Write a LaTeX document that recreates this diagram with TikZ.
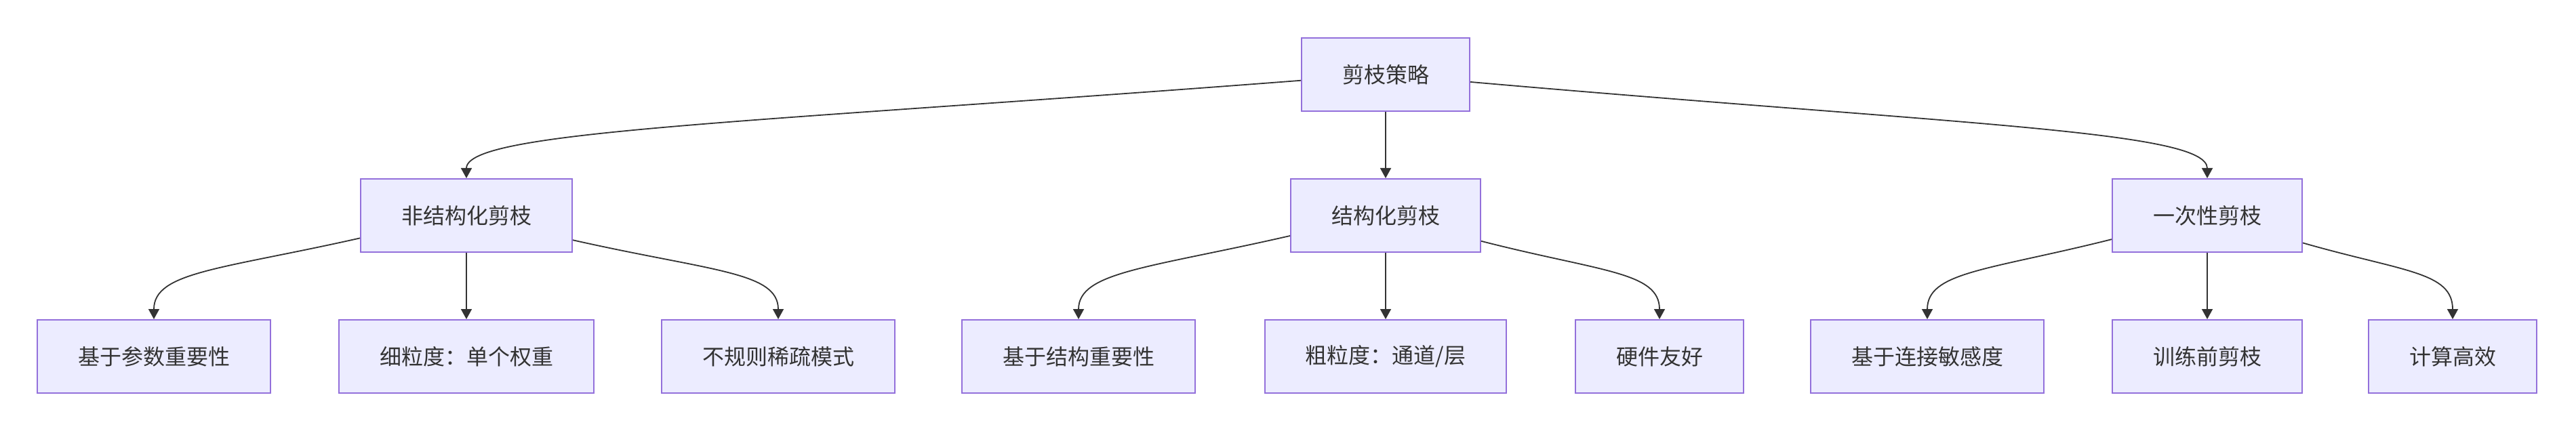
\documentclass[tikz,border=0pt]{standalone}
\usepackage{fontspec}
\setmainfont{Noto Sans CJK SC}
\usepackage{xcolor}
\usetikzlibrary{arrows.meta}
\definecolor{boxfill}{HTML}{ECECFF}
\definecolor{boxline}{HTML}{9370DB}
\definecolor{ink}{HTML}{333333}
\tikzset{
  box/.style={draw=boxline, fill=boxfill, line width=1pt, text=ink,
    font=\fontsize{16pt}{19pt}\selectfont, minimum height=54pt,
    inner xsep=30pt, inner ysep=0pt},
  edge/.style={draw=ink, line width=0.9pt, -{Triangle[length=7.5pt,width=8pt]}}
}

\begin{document}
\begin{tikzpicture}[x=1pt,y=-1pt]
\useasboundingbox (0,0) rectangle (1900,318);
\node[box] (root) at (1022,55) {剪枝策略};
\node[box] (uns) at (344,159) {非结构化剪枝};
\node[box] (str) at (1022,159) {结构化剪枝};
\node[box] (one) at (1628,159) {一次性剪枝};
\node[box] (param) at (113.5,263) {基于参数重要性};
\node[box] (fine) at (344,263) {细粒度：单个权重};
\node[box] (irreg) at (574,263) {不规则稀疏模式};
\node[box] (struc) at (795.5,263) {基于结构重要性};
\node[box] (coarse) at (1022,263) {粗粒度：通道/层};
\node[box] (hw) at (1224,263) {硬件友好};
\node[box] (conn) at (1421.5,263) {基于连接敏感度};
\node[box] (pre) at (1628,263) {训练前剪枝};
\node[box] (eff) at (1809,263) {计算高效};
\draw[edge] (root.184.4) to[out=184.4,in=90,out distance=412pt,in distance=35pt] (uns.north);
\draw[edge] (root.south) -- (str.north);
\draw[edge] (root.355) to[out=355,in=90,out distance=364pt,in distance=35pt] (one.north);
\draw[edge] (uns.192.7) to[out=192.7,in=90,out distance=105pt,in distance=35pt] (param.north);
\draw[edge] (uns.south) -- (fine.north);
\draw[edge] (uns.347.3) to[out=347.3,in=90,out distance=105pt,in distance=35pt] (irreg.north);
\draw[edge] (str.192.9) to[out=192.9,in=90,out distance=107pt,in distance=35pt] (struc.north);
\draw[edge] (str.south) -- (coarse.north);
\draw[edge] (str.345.6) to[out=345.6,in=90,out distance=91pt,in distance=35pt] (hw.north);
\draw[edge] (one.194.1) to[out=194.1,in=90,out distance=94pt,in distance=35pt] (conn.north);
\draw[edge] (one.south) -- (pre.north);
\draw[edge] (one.344) to[out=344,in=90,out distance=77pt,in distance=35pt] (eff.north);
\end{tikzpicture}
\end{document}
